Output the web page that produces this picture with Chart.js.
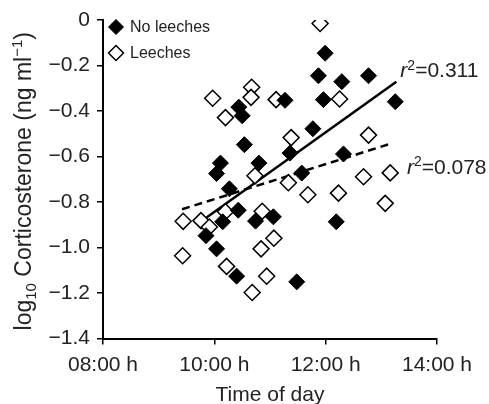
<!DOCTYPE html>
<html><head><meta charset="utf-8">
<script src="https://cdn.jsdelivr.net/npm/chart.js@4/dist/chart.umd.min.js"></script>
<style>html,body{margin:0;padding:0;background:#fff}#wrap{width:489px;height:404px}</style>
</head><body><div id="wrap"><canvas id="c" width="489" height="404"></canvas></div>
<script>
const seriesNames = ['No leeches', 'Leeches'];
const noLeechesTime = [9.85, 10.04, 10.11, 10.04, 10.27, 10.15, 10.43, 10.40, 10.44, 10.50, 10.54, 10.74, 10.80, 11.06, 11.27, 11.36, 11.48, 11.57, 11.77, 11.87, 11.96, 11.99, 12.19, 12.29, 12.32, 12.77, 13.25];
const noLeechesCort = [-0.948, -1.006, -0.629, -0.675, -0.742, -0.887, -0.836, -1.126, -0.383, -0.421, -0.548, -0.884, -0.629, -0.865, -0.353, -0.585, -1.151, -0.673, -0.478, -0.245, -0.350, -0.146, -0.887, -0.271, -0.589, -0.245, -0.359];
const leechesTime = [9.44, 9.43, 9.76, 9.91, 9.97, 10.20, 10.20, 10.22, 10.67, 10.66, 10.68, 10.73, 10.86, 10.84, 10.94, 11.07, 11.11, 11.33, 11.38, 11.68, 11.90, 12.23, 12.25, 12.68, 12.77, 13.07, 13.16];
const leechesCort = [-0.885, -1.036, -0.882, -0.910, -0.344, -0.429, -0.843, -1.083, -0.296, -0.340, -1.198, -0.685, -0.841, -1.006, -1.126, -0.959, -0.350, -0.715, -0.517, -0.768, -0.015, -0.761, -0.347, -0.689, -0.506, -0.806, -0.672];
const fitNoLeechesTime = [9.86, 13.27];
const fitNoLeechesCort = [-0.868, -0.271];
const fitLeechesTime = [9.42, 13.19];
const fitLeechesCort = [-0.832, -0.542];
const r2Values = ['0.311', '0.078'];
const xTickValues = [8, 10, 12, 14];
const xTickLabels = ['08:00 h', '10:00 h', '12:00 h', '14:00 h'];
const yTickLabels = ['\u22121.4', '\u22121.2', '\u22121.0', '\u22120.8', '\u22120.6', '\u22120.4', '\u22120.2', '0'];

const FONT = 'Liberation Sans, Arial, Helvetica, sans-serif';
const TXT = '#222';
const pts = (xs, ys) => xs.map((x, i) => ({x: x, y: ys[i]}));

function diamond(ctx, x, y, r, fill, lw) {
  ctx.beginPath();
  ctx.moveTo(x, y - r); ctx.lineTo(x + r, y); ctx.lineTo(x, y + r); ctx.lineTo(x - r, y); ctx.closePath();
  ctx.fillStyle = fill; ctx.fill();
  ctx.lineWidth = lw; ctx.strokeStyle = '#000'; ctx.stroke();
}

function drawParts(ctx, parts, x, y) {
  for (const p of parts) {
    ctx.font = p.f;
    ctx.fillText(p.t, x, y + (p.dy || 0));
    x += ctx.measureText(p.t).width;
  }
}
function partsWidth(ctx, parts) {
  let w = 0;
  for (const p of parts) { ctx.font = p.f; w += ctx.measureText(p.t).width; }
  return w;
}

const extras = {
  id: 'extras',
  afterDraw(chart) {
    const ctx = chart.ctx;
    const xs = chart.scales.x, ys = chart.scales.y;
    const ca = chart.chartArea;
    ctx.save();
    ctx.fillStyle = TXT;
    ctx.textBaseline = 'alphabetic';
    ctx.textAlign = 'left';
    // Y axis title with subscript / superscript
    const main = '23px ' + FONT, small = '15px ' + FONT;
    const parts = [
      {t: 'log', f: main}, {t: '10', f: small, dy: 5},
      {t: ' Corticosterone (ng ml', f: main}, {t: '\u22121', f: small, dy: -9},
      {t: ')', f: main}
    ];
    ctx.save();
    ctx.translate(23, (ca.top + ca.bottom) / 2 + 2);
    ctx.rotate(-Math.PI / 2);
    const tw = partsWidth(ctx, parts);
    ctx.fillStyle = TXT;
    drawParts(ctx, parts, -tw / 2, 8);
    ctx.restore();

    // Legend
    const lg = [[seriesNames[0], '#000', 1], [seriesNames[1], '#fff', 1.5]];
    lg.forEach((l, i) => {
      const cy = ca.top + 7 + i * 26;
      diamond(ctx, ca.left + 13, cy, 7.5, l[1], l[2]);
      ctx.fillStyle = TXT;
      ctx.font = '16px ' + FONT;
      ctx.textBaseline = 'middle';
      ctx.fillText(l[0], ca.left + 27, cy + 1);
    });

    // r^2 labels
    ctx.textBaseline = 'middle';
    const ends = [
      [fitNoLeechesTime[1], fitNoLeechesCort[1], 4, -10],
      [fitLeechesTime[1], fitLeechesCort[1], 15, 25]
    ];
    ends.forEach((e, i) => {
      const px = xs.getPixelForValue(e[0]) + e[2];
      const py = ys.getPixelForValue(e[1]) + e[3];
      ctx.fillStyle = TXT;
      drawParts(ctx, [
        {t: 'r', f: 'italic 21px ' + FONT},
        {t: '2', f: '14px ' + FONT, dy: -6},
        {t: '=' + r2Values[i], f: '21px ' + FONT}
      ], px, py);
    });
    ctx.restore();
  }
};

new Chart(document.getElementById('c'), {
  type: 'scatter',
  data: {
    datasets: [
      {label: seriesNames[0], data: pts(noLeechesTime, noLeechesCort), pointStyle: 'rectRot', pointRadius: 8, pointHoverRadius: 8,
       backgroundColor: '#000', borderColor: '#000', borderWidth: 1},
      {label: seriesNames[1], data: pts(leechesTime, leechesCort), pointStyle: 'rectRot', pointRadius: 8, pointHoverRadius: 8,
       backgroundColor: '#fff', borderColor: '#000', borderWidth: 1.5},
      {label: 'fit1', data: pts(fitNoLeechesTime, fitNoLeechesCort), showLine: true, pointRadius: 0,
       borderColor: '#000', borderWidth: 2.5, fill: false},
      {label: 'fit2', data: pts(fitLeechesTime, fitLeechesCort), showLine: true, pointRadius: 0,
       borderColor: '#000', borderWidth: 2.5, borderDash: [8, 5], fill: false}
    ]
  },
  options: {
    responsive: false, animation: false, devicePixelRatio: 1,
    layout: {padding: {left: 0, right: 52, top: 20, bottom: 0}},
    plugins: {legend: {display: false}, tooltip: {enabled: false}},
    scales: {
      x: {
        type: 'linear', min: 8, max: 14,
        afterFit: s => { s.height = 65.5; },
        afterBuildTicks: s => { s.ticks = xTickValues.map(v => ({value: v})); },
        ticks: {callback: v => xTickLabels[xTickValues.indexOf(v)], font: {size: 21, family: FONT}, color: TXT, padding: 8, maxRotation: 0},
        grid: {drawOnChartArea: false, drawTicks: true, tickLength: 6, color: '#000', lineWidth: 1.5},
        border: {display: true, color: '#000', width: 2},
        title: {display: true, text: 'Time of day', font: {size: 21, family: FONT, lineHeight: 0.8}, color: TXT, padding: {top: 0, bottom: 0}}
      },
      y: {
        type: 'linear', min: -1.4, max: 0,
        afterFit: s => { s.width = 103; },
        ticks: {stepSize: 0.2, callback: (v, i) => yTickLabels[i], font: {size: 21, family: FONT}, color: TXT, padding: 7},
        grid: {drawOnChartArea: false, drawTicks: true, tickLength: 6, color: '#000', lineWidth: 1.5},
        border: {display: true, color: '#000', width: 2}
      }
    }
  },
  plugins: [extras]
});
</script></body></html>
